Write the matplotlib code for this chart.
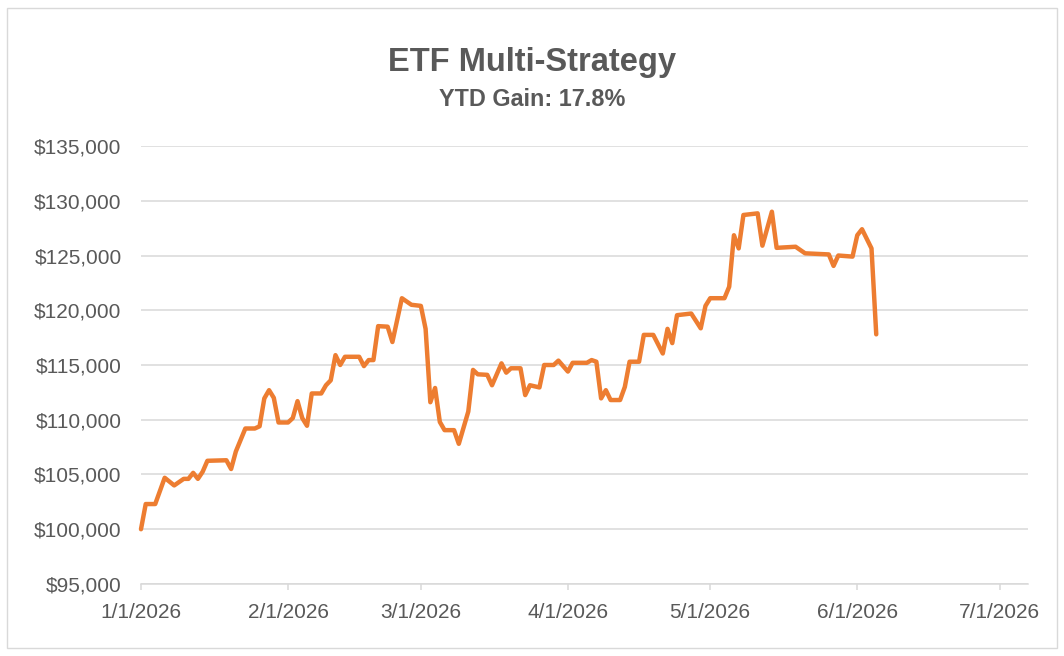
import numpy as np, pandas as pd
import matplotlib; matplotlib.use("Agg"); import matplotlib.pyplot as plt
from matplotlib.ticker import FuncFormatter
from matplotlib.patches import Rectangle

# portfolio value (day offset from 1/1/2026, value in $)
start = "2026-01-01"
day_offset = [0, 1, 3, 5, 7, 9, 10, 11, 12, 13, 14, 18, 19, 20, 22, 24, 25, 26, 27, 28,
              29, 31, 32, 33, 34, 35, 36, 38, 39, 40, 41, 42, 43, 46, 47, 48, 49, 50, 52, 53,
              54, 55, 57, 59, 60, 61, 62, 63, 64, 66, 67, 69, 70, 71, 73, 74, 76, 77, 78, 80,
              81, 82, 84, 85, 87, 88, 90, 91, 94, 95, 96, 97, 98, 99, 101, 102, 103, 105, 106, 108,
              110, 111, 112, 113, 116, 118, 119, 120, 123, 124, 125, 126, 127, 130, 131, 133, 134, 138, 140, 145,
              146, 147, 150, 151, 152, 154, 155]
value = [100000, 102300, 102300, 104700, 104000, 104600, 104600, 105150, 104600, 105250,
         106250, 106300, 105500, 107100, 109200, 109200, 109400, 111950, 112700, 112000,
         109750, 109750, 110150, 111700, 110150, 109450, 112400, 112400, 113150, 113600,
         115900, 115000, 115750, 115750, 114900, 115450, 115450, 118550, 118500, 117100,
         119100, 121100, 120500, 120400, 118300, 111600, 112900, 109800, 109050, 109050,
         107800, 110750, 114550, 114150, 114100, 113150, 115150, 114300, 114700, 114700,
         112250, 113150, 112950, 115000, 115000, 115400, 114400, 115200, 115200, 115450,
         115300, 111950, 112700, 111800, 111800, 113000, 115300, 115300, 117750, 117750,
         116050, 118300, 117000, 119550, 119700, 118350, 120400, 121100, 121100, 122150,
         126850, 125650, 128700, 128850, 125900, 129000, 125700, 125800, 125200, 125100,
         124050, 125000, 124900, 126850, 127400, 125650, 117800]
title = "ETF Multi-Strategy"
subtitle = "YTD Gain: 17.8%"
month_ticks = ["2026-01-01", "2026-02-01", "2026-03-01", "2026-04-01", "2026-05-01", "2026-06-01", "2026-07-01"]

dates = pd.Timestamp(start) + pd.to_timedelta(day_offset, unit="D")
ticks = pd.to_datetime(month_ticks)

plt.rcParams["font.family"] = ["Liberation Sans", "DejaVu Sans"]
GREY = "#595959"
fig = plt.figure(figsize=(10.64, 6.56), dpi=100)
ax = fig.add_axes([0.1325, 0.1098, 0.8337, 0.6676])
fig.patches.append(Rectangle((0.007, 0.012), 0.986, 0.976, transform=fig.transFigure,
                             fill=False, ec="#d9d9d9", lw=1.0))

ax.plot(dates, value, color="#ED7D31", lw=3.2, solid_joinstyle="round", solid_capstyle="round",
        zorder=3, clip_on=False)

ax.set_ylim(95000, 135000)
ax.set_yticks(np.arange(95000, 135001, 5000))
ax.yaxis.set_major_formatter(FuncFormatter(lambda v, p: f"${v:,.0f}"))
ax.set_xlim(pd.Timestamp(start), pd.Timestamp(start) + pd.Timedelta(days=187))
ax.set_xticks(ticks)
ax.set_xticklabels([f"{t.month}/{t.day}/{t.year}" for t in ticks])
ax.grid(axis="y", color="#d9d9d9", lw=1.1)
ax.set_axisbelow(True)
for s in ("top", "right", "left"):
    ax.spines[s].set_visible(False)
ax.spines["bottom"].set_color("#d9d9d9"); ax.spines["bottom"].set_linewidth(1.1)
ax.tick_params(axis="y", length=0, pad=14, labelsize=15, labelcolor=GREY)
ax.tick_params(axis="x", length=4, width=1.1, color="#d9d9d9", pad=10, labelsize=15, labelcolor=GREY)

fig.text(0.5, 1 - 62/656, title, ha="center", va="center", fontsize=23.5, fontweight="bold", color=GREY)
fig.text(0.5, 1 - 100/656, subtitle, ha="center", va="center", fontsize=16.8, fontweight="bold", color=GREY)

fig.savefig("out.png", dpi=100)
